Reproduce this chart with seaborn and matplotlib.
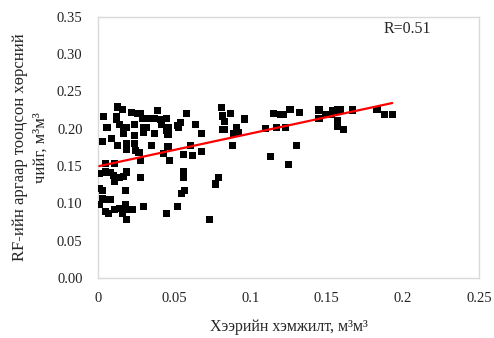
import numpy as np
import pandas as pd
import matplotlib
matplotlib.use("Agg")
import matplotlib.pyplot as plt
import seaborn as sns

# field-measured soil moisture (x) vs RF-estimated soil moisture (y), m3/m3
measured = [
    0.013, 0.016, 0.022, 0.039, 0.081, 0.115, 0.120, 0.122, 0.126, 0.132,
    0.145, 0.149, 0.153, 0.154, 0.157, 0.159, 0.167, 0.183, 0.188, 0.193,
    0.004, 0.012, 0.026, 0.029, 0.028, 0.033, 0.037, 0.041, 0.045, 0.058,
    0.082, 0.087, 0.096, 0.145, 0.149, 0.157,
    0.006, 0.012, 0.014, 0.017, 0.019, 0.024, 0.030, 0.032, 0.042, 0.046,
    0.052, 0.053, 0.054, 0.064, 0.068, 0.083, 0.082, 0.083, 0.091, 0.092,
    0.089, 0.110, 0.117, 0.123, 0.157, 0.161, 0.017, 0.024, 0.030, 0.037,
    0.045, 0.046,
    0.003, 0.009, 0.013, 0.019, 0.019, 0.024, 0.025, 0.027, 0.035, 0.046,
    0.043, 0.056, 0.061, 0.062, 0.068, 0.088, 0.113, 0.130, 0.028, 0.047,
    0.005, 0.011, 0.001, 0.005, 0.008, 0.010, 0.011, 0.014, 0.017, 0.019,
    0.028, 0.056, 0.056, 0.125, 0.079, 0.077,
    0.001, 0.003, 0.018, 0.003, 0.005, 0.008, 0.001, 0.057, 0.055, 0.018,
    0.030, 0.052,
    0.005, 0.007, 0.011, 0.014, 0.016, 0.018, 0.019, 0.023, 0.016, 0.019,
    0.045, 0.073,
]
estimated = [
    0.229, 0.226, 0.222, 0.224, 0.228, 0.220, 0.219, 0.219, 0.226, 0.222,
    0.225, 0.219, 0.219, 0.224, 0.225, 0.225, 0.225, 0.226, 0.219, 0.219,
    0.216, 0.216, 0.220, 0.214, 0.220, 0.214, 0.214, 0.212, 0.214, 0.220,
    0.217, 0.220, 0.213, 0.214, 0.219, 0.211,
    0.202, 0.212, 0.205, 0.201, 0.202, 0.205, 0.202, 0.202, 0.205, 0.201,
    0.204, 0.201, 0.208, 0.205, 0.194, 0.209, 0.199, 0.199, 0.202, 0.195,
    0.194, 0.200, 0.202, 0.202, 0.203, 0.199, 0.194, 0.191, 0.195, 0.194,
    0.198, 0.192,
    0.183, 0.187, 0.178, 0.180, 0.172, 0.180, 0.171, 0.168, 0.178, 0.176,
    0.167, 0.166, 0.178, 0.164, 0.170, 0.178, 0.163, 0.178, 0.158, 0.157,
    0.153, 0.153, 0.140, 0.142, 0.141, 0.137, 0.130, 0.135, 0.136, 0.142,
    0.135, 0.143, 0.135, 0.152, 0.135, 0.126,
    0.120, 0.117, 0.117, 0.107, 0.105, 0.105, 0.098, 0.117, 0.113, 0.098,
    0.096, 0.096,
    0.089, 0.087, 0.092, 0.093, 0.089, 0.092, 0.092, 0.092, 0.087, 0.078,
    0.087, 0.078,
]
r_label = "R=0.51"

df = pd.DataFrame({"measured": measured, "estimated": estimated})

sns.set_style("white")
plt.rcParams["font.family"] = ["Liberation Serif", "DejaVu Serif"]

fig = plt.figure(figsize=(4.94, 3.38), dpi=100)
ax = fig.add_axes([0.198, 0.177, 0.772, 0.774])

sns.scatterplot(data=df, x="measured", y="estimated", ax=ax, marker="s",
                color="black", s=26, edgecolor="none", linewidth=0, zorder=3)
sns.regplot(data=df, x="measured", y="estimated", ax=ax, scatter=False,
            ci=None, truncate=True, color="#ff0000",
            line_kws={"linewidth": 1.6, "zorder": 4})

ax.set_xlim(0, 0.25)
ax.set_ylim(0, 0.35)
ax.set_xticks([0, 0.05, 0.1, 0.15, 0.2, 0.25])
ax.set_xticklabels(["0", "0.05", "0.1", "0.15", "0.2", "0.25"])
ax.set_yticks(np.arange(0, 0.351, 0.05))
ax.set_yticklabels([f"{v:.2f}" for v in np.arange(0, 0.351, 0.05)])
ax.tick_params(axis="both", length=0, labelsize=10.5, colors="#222222")
ax.tick_params(axis="x", pad=10)
ax.tick_params(axis="y", pad=11)

for sp in ax.spines.values():
    sp.set_color("#d9d9d9")
    sp.set_linewidth(1.0)

ax.set_xlabel("Хээрийн хэмжилт, м³м³", fontsize=11.5, labelpad=10)
ax.set_ylabel("RF-ийн аргаар тооцсон хөрсний\nчийг, м³м³", fontsize=12,
              labelpad=6, linespacing=1.35)

ax.text(0.203, 0.334, r_label, fontsize=11.5, ha="center", va="center")

fig.savefig("out.png", dpi=100)
